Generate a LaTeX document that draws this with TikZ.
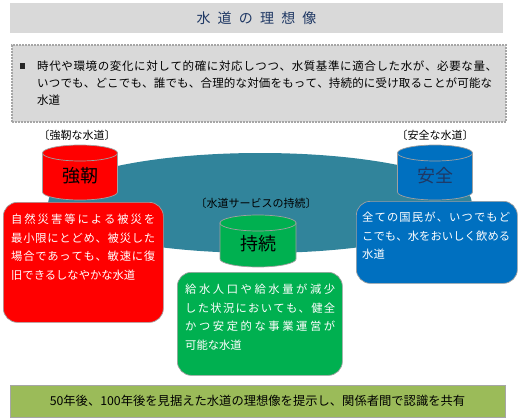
\documentclass[tikz,border=0pt]{standalone}
\usepackage{fontspec}
\setmainfont{Noto Sans CJK JP}
\usetikzlibrary{shapes.geometric}
\definecolor{bggray}{HTML}{D9D9D9}
\definecolor{dotgray}{HTML}{A6A6A6}
\definecolor{titleblue}{HTML}{1F3864}
\definecolor{tealc}{HTML}{31849B}
\definecolor{redc}{HTML}{FF0000}
\definecolor{bluec}{HTML}{0070C0}
\definecolor{greenc}{HTML}{00B050}
\definecolor{olivec}{HTML}{9BBB59}
\definecolor{edgegray}{HTML}{A0A0A0}
\makeatletter
\def\sprd#1#2{\hbox to #1{\sprd@first#2\relax}}
\def\sprd@first#1{#1\sprd@next}
\def\sprd@next#1{\ifx\relax#1\else\hskip 0pt plus 1fil#1\expandafter\sprd@next\fi}
\makeatother
\newcommand\drawcyl[6]{%
  \filldraw[draw=edgegray, line width=0.7pt, fill=#6]
    (#1-#4,#2) -- (#1-#4,#3) arc[start angle=180,end angle=0,x radius=#4,y radius=#5] -- (#1+#4,#2) -- cycle;
  \filldraw[draw=edgegray, line width=0.7pt, fill=#6] (#1,#2) ellipse[x radius=#4,y radius=#5];
}
\begin{document}
\begin{tikzpicture}[x=1pt,y=-1pt,
  boxtext/.style={anchor=north west, align=left, inner sep=0, text=white, font=\fontsize{11.3}{18.5}\selectfont},
  roundbox/.style={draw=edgegray, line width=0.7pt, rounded corners=14pt, anchor=north west, inner sep=0},
  cyltext/.style={font=\fontsize{18}{18}\selectfont, inner sep=0},
  bracket/.style={font=\fontsize{11}{11}\selectfont, inner sep=0}]
\useasboundingbox (0,0) rectangle (520,420);
\fill[white] (0,0) rectangle (520,420);
% title
\node[fill=bggray, minimum width=493, minimum height=30, inner sep=0, text=titleblue,
      font=\fontsize{14}{14}\selectfont] (title) at (256.5,18) {\sprd{120pt}{水道の理想像}};
% definition box
\node[draw=dotgray, dash pattern=on 2pt off 1pt, line width=1.8pt, fill=bggray,
      minimum width=494, minimum height=77, anchor=north west, inner sep=0] (defbox) at (11,44) {};
\node[fill=black!85, minimum size=5.5, inner sep=0] (bullet) at (22.5,66) {};
\node[anchor=north west, align=left, inner sep=0, font=\fontsize{11.5}{16.8}\selectfont] (deftext) at (37,61)
  {\sprd{460pt}{時代や環境の変化に対して的確に対応しつつ、水質基準に適合した水が、必要な量、}\\
   \sprd{455pt}{いつでも、どこでも、誰でも、合理的な対価をもって、持続的に受け取ることが可能な}\\
   水道};
% service ellipse
\node[ellipse, fill=tealc, minimum width=424, minimum height=100, inner sep=0] (service) at (260,203) {};
\node[bracket] (servlabel) at (256,203) {〔水道サービスの持続〕};
% cylinders
\drawcyl{80}{153}{192}{37.5}{8}{redc}
\drawcyl{435}{153}{192}{37.5}{8}{bluec}
\drawcyl{258}{223}{259}{38}{8}{greenc}
\node[cyltext] (kyo) at (80,176) {強靭};
\node[cyltext, text=titleblue] (anz) at (435,176) {安全};
\node[cyltext] (jiz) at (258,244) {持続};
\node[bracket] (kyolabel) at (77,135) {〔強靭な水道〕};
\node[bracket] (anzlabel) at (435,135) {〔安全な水道〕};
% boxes
\node[roundbox, fill=redc, minimum width=160, minimum height=120] (redbox) at (3,202) {};
\node[boxtext] (redtext) at (11,214)
  {\sprd{144pt}{自然災害等による被災を}\\
   \sprd{144pt}{最小限にとどめ、被災した}\\
   \sprd{144pt}{場合であっても、敏速に復}\\
   旧できるしなやかな水道};
\node[roundbox, fill=bluec, minimum width=161, minimum height=82] (bluebox) at (356,201) {};
\node[boxtext] (bluetext) at (362,212)
  {\sprd{148pt}{全ての国民が、いつでもど}\\
   \sprd{148pt}{こでも、水をおいしく飲める}\\
   水道};
\node[roundbox, fill=greenc, minimum width=165, minimum height=103] (greenbox) at (177,272) {};
\node[boxtext] (greentext) at (185,284)
  {\sprd{150pt}{給水人口や給水量が減少}\\
   \sprd{150pt}{した状況においても、健全}\\
   \sprd{150pt}{かつ安定的な事業運営が}\\
   可能な水道};
% bottom bar
\node[draw=dotgray, line width=0.7pt, fill=olivec, minimum width=495, minimum height=32, inner sep=0,
      font=\fontsize{12.3}{12.3}\selectfont] (bottom) at (257.5,401)
  {50年後、100年後を見据えた水道の理想像を提示し、関係者間で認識を共有};
\end{tikzpicture}
\end{document}
